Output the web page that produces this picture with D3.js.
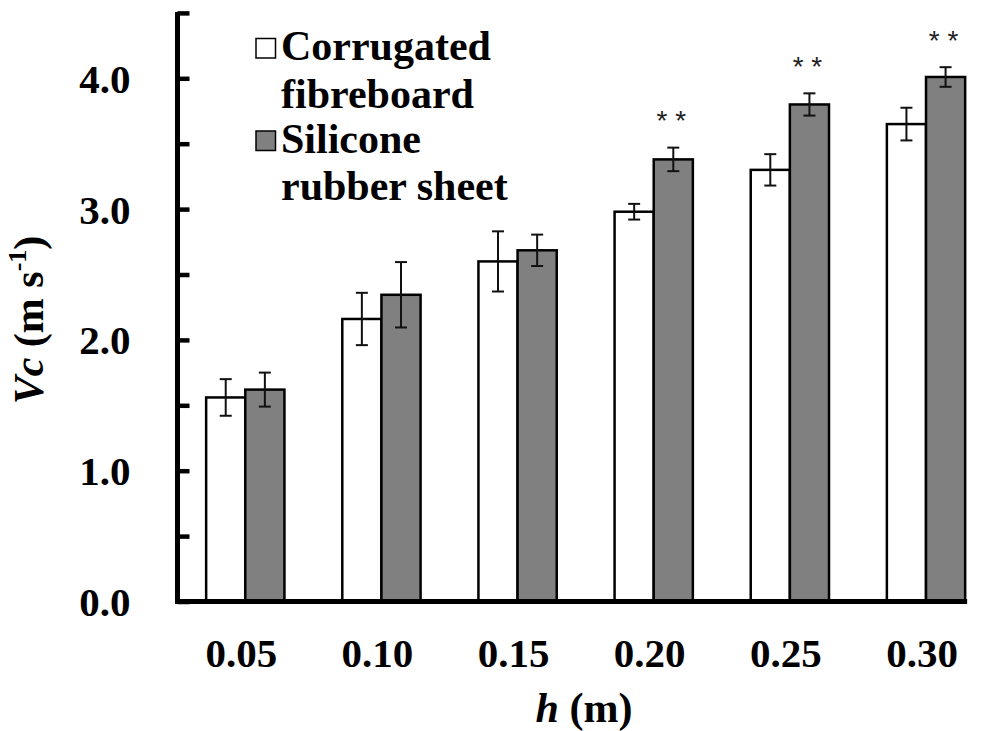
<!DOCTYPE html>
<html>
<head>
<meta charset="utf-8">
<script src="https://cdn.jsdelivr.net/npm/d3@7"></script>
<style>
  html, body { margin: 0; padding: 0; background: #fff; }
  svg { display: block; }
</style>
</head>
<body>
<svg id="chart" width="982" height="731"></svg>
<script>
// Drop heights (m) on the x axis
const categories = ["0.05", "0.10", "0.15", "0.20", "0.25", "0.30"];
const seriesNames = ["Corrugated fibreboard", "Silicone rubber sheet"];
// Critical velocity Vc (m/s), mean and error
const fibreboard = [1.56, 2.16, 2.60, 2.98, 3.30, 3.65];
const fibreboardErr = [0.14, 0.20, 0.23, 0.06, 0.12, 0.125];
const silicone = [1.62, 2.345, 2.685, 3.38, 3.80, 4.01];
const siliconeErr = [0.13, 0.25, 0.12, 0.09, 0.085, 0.075];
const significance = ["", "", "", "**", "**", "**"];
const yTicks = [0, 0.5, 1, 1.5, 2, 2.5, 3, 3.5, 4, 4.5];
const fills = ["#ffffff", "#808080"];

const svg = d3.select("#chart");
const SERIF = "Liberation Serif";
const SANS = "Liberation Sans";
const serifText = sel => sel.style("font-family", SERIF).style("font-weight", "bold").attr("fill", "#000");

const axisX = 177.5;
const y = d3.scaleLinear().domain([0, 4.5]).range([601.5, 12.9]);
const x = d3.scaleBand().domain(categories).range([206.15, 965.15]).paddingInner(0.425).paddingOuter(0);
const xs = d3.scaleBand().domain([0, 1]).range([0, x.bandwidth()]);

const rows = categories.map((c, i) => ({
  cat: c,
  sig: significance[i],
  bars: [
    { s: 0, v: fibreboard[i], e: fibreboardErr[i] },
    { s: 1, v: silicone[i], e: siliconeErr[i] }
  ]
}));

// Bars
const groups = svg.append("g").selectAll("g").data(rows).join("g")
  .attr("transform", d => `translate(${x(d.cat)},0)`);

groups.selectAll("rect").data(d => d.bars).join("rect")
  .attr("x", d => xs(d.s))
  .attr("y", d => y(d.v))
  .attr("width", xs.bandwidth())
  .attr("height", d => y(0) - y(d.v))
  .attr("fill", d => fills[d.s])
  .attr("stroke", "#000")
  .attr("stroke-width", 2.5);

// Error bars
const eb = groups.selectAll("g.err").data(d => d.bars).join("g").attr("class", "err")
  .attr("stroke", "#111").attr("stroke-width", 2);
const cx = d => xs(d.s) + xs.bandwidth() / 2;
eb.append("line")
  .attr("x1", cx).attr("x2", cx)
  .attr("y1", d => y(d.v + d.e)).attr("y2", d => y(d.v - d.e));
eb.append("line")
  .attr("x1", d => cx(d) - 6).attr("x2", d => cx(d) + 6)
  .attr("y1", d => y(d.v + d.e)).attr("y2", d => y(d.v + d.e));
eb.append("line")
  .attr("x1", d => cx(d) - 6).attr("x2", d => cx(d) + 6)
  .attr("y1", d => y(d.v - d.e)).attr("y2", d => y(d.v - d.e));

// Significance marks above the silicone bars
groups.filter(d => d.sig).append("text")
  .style("font-family", SANS)
  .attr("x", xs(1) + xs.bandwidth() / 2 - 2)
  .attr("y", d => y(d.bars[1].v + d.bars[1].e) - 34)
  .attr("dy", "0.6em")
  .attr("text-anchor", "middle")
  .attr("font-size", 28)
  .attr("fill", "#222")
  .text(d => d.sig.split("").join(" "));

// Y axis with inward ticks
const yAxis = d3.axisLeft(y)
  .tickValues(yTicks)
  .tickSizeInner(-12)
  .tickSizeOuter(0)
  .tickPadding(47)
  .tickFormat(d => Number.isInteger(d) ? d3.format(".1f")(d) : "");
const gy = svg.append("g").attr("transform", `translate(${axisX},0)`).call(yAxis);
gy.select(".domain").attr("stroke", "#000").attr("stroke-width", 5).attr("d", `M0,${y(0) + 2.5}V${y(4.5) - 1}`);
gy.selectAll(".tick line").attr("stroke", "#000").attr("stroke-width", 4.5);
gy.selectAll(".tick text").call(serifText).attr("font-size", 41).attr("dy", "0.34em");

// X axis line and labels
svg.append("line")
  .attr("x1", axisX - 2.5).attr("x2", x.range()[1] + 2)
  .attr("y1", y(0)).attr("y2", y(0))
  .attr("stroke", "#000").attr("stroke-width", 5);
const xAxis = d3.axisBottom(x).tickSize(0).tickPadding(0);
const gx = svg.append("g").attr("transform", `translate(0,${y(0)})`).call(xAxis);
gx.select(".domain").remove();
gx.selectAll(".tick text").call(serifText).attr("font-size", 41)
  .attr("y", 65.5).attr("dy", 0).attr("dx", -4);

// Axis titles
const xt = svg.append("text").call(serifText)
  .attr("x", 584).attr("y", 722)
  .attr("text-anchor", "middle")
  .attr("font-size", 42);
xt.append("tspan").style("font-style", "italic").text("h");
xt.append("tspan").text(" (m)");

const yt = svg.append("text").call(serifText)
  .attr("transform", "translate(43,320) rotate(-90)")
  .attr("text-anchor", "middle")
  .attr("font-size", 42);
yt.append("tspan").style("font-style", "italic").text("Vc");
yt.append("tspan").text(" (m s");
yt.append("tspan").attr("font-size", 26).attr("dy", -17).text("-1");
yt.append("tspan").attr("dy", 17).text(")");

// Legend
const legendLines = [["Corrugated", "fibreboard"], ["Silicone", "rubber sheet"]];
const legend = svg.append("g");
seriesNames.forEach((name, i) => {
  const top = 38.5 + i * 92.5;
  legend.append("rect")
    .attr("x", 256).attr("y", top).attr("width", 19.5).attr("height", 19.5)
    .attr("fill", fills[i]).attr("stroke", "#000").attr("stroke-width", 1.5);
  const t = legend.append("text").call(serifText).attr("font-size", 42);
  legendLines[i].forEach((line, j) => {
    t.append("tspan").attr("x", 281).attr("y", top + 21.5 + j * 47.5).text(line);
  });
});
</script>
</body>
</html>
